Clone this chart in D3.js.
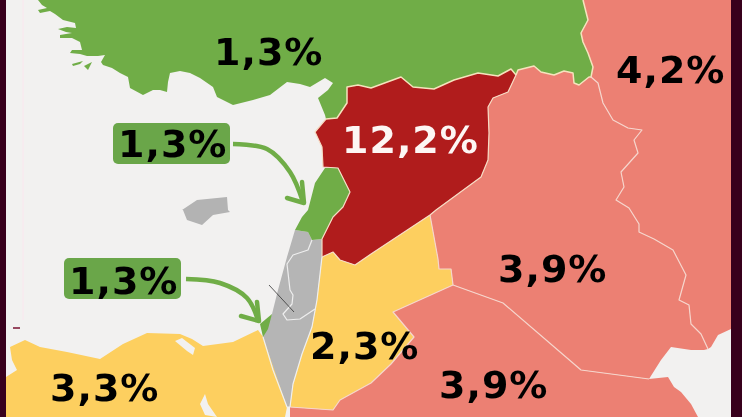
<!DOCTYPE html>
<html><head><meta charset="utf-8">
<script src="https://cdn.jsdelivr.net/npm/d3@7"></script>
<style>html,body{margin:0;padding:0;background:#f2f1f0;overflow:hidden}svg{display:block}</style>
</head><body><svg id="c" width="742" height="417"></svg>
<script>
// Data: share per country
const countries = ["Turkey","Lebanon","Gaza","Syria","Iran","Iraq","Saudi Arabia","Jordan","Egypt"];
const shares    = [1.3,1.3,1.3,12.2,4.2,3.9,3.9,2.3,3.3];
const shareLabels = ["1,3%","1,3%","1,3%","12,2%","4,2%","3,9%","3,9%","2,3%","3,3%"];

// Map geometry (map units)
const turkeyCoast = [[38,0],[42,5],[47,8],[38,10],[40,13],[50,11],[55,14],[63,20],[75,23],[76,28],[67,27],[58,29],[66,32],[72,33],[60,35],[60,38],[72,38],[80,42],[82,50],[72,50],[70,53],[80,54],[87,56],[98,56],[105,55],[101,62],[103,65],[112,68],[120,73],[128,77],[130,88],[143,95],[153,90],[160,90],[167,92],[168,82],[170,73],[180,71],[190,73],[200,78],[213,87],[217,97],[233,105],[253,100],[270,95],[287,82],[300,84],[310,87],[325,78],[333,83],[328,90],[318,98],[325,115],[326,119]];
const syriaNorth = [[326,119],[337,118],[347,103],[347,87],[358,85],[371,88],[401,77],[413,87],[434,89],[454,80],[478,73],[498,76],[511,69],[516,75]];
const turkeyIraq = [[516,75],[518,70],[534,66],[541,72],[554,75],[564,71],[573,73],[574,83],[579,85],[589,77],[591,77]];
const turkeyIran = [[591,77],[593,67],[588,53],[583,42],[581,33],[588,20],[583,0]];
const iranIraq = [[591,77],[598,83],[603,103],[613,120],[628,128],[642,130],[634,140],[638,153],[621,172],[624,187],[616,200],[629,208],[639,224],[639,232],[654,239],[673,250],[686,275],[679,300],[689,305],[691,324],[701,334],[708,349]];
const iranCoast = [[708,349],[711,347],[718,335],[731,329]];
const iraqCoast = [[708,349],[704,350],[691,350],[671,347],[661,360],[649,379]];
const saudiCoast = [[649,379],[668,377],[674,387],[681,392],[691,404],[698,417]];
const saudiIraq = [[453,285],[503,303],[581,370],[649,379]];
const jordanIraq = [[430,215],[438,259],[439,269],[451,269],[453,285]];
const syriaIraq = [[516,75],[508,92],[493,98],[488,107],[489,133],[488,160],[481,177],[436,210],[430,215]];
const jordanSaudi = [[453,285],[393,312],[414,337],[391,364],[371,383],[340,400],[333,410],[290,407]];
const jordanIsrael = [[290,407],[293,384],[302,354],[312,327],[317,300],[322,257]];
const syriaJordan = [[322,257],[333,252],[340,260],[355,265],[371,254],[430,215]];
const syriaWest = [[326,119],[315,132],[322,147],[323,167],[338,168],[350,192],[343,207],[333,217],[322,239],[322,257]];
const lebanonCoast = [[338,168],[325,168],[315,183],[308,210],[302,217],[295,230],[308,232],[312,240],[322,239]];
const israelCoast = [[295,230],[287,257],[278,290],[272,314],[263,337],[273,370],[287,407],[290,407]];
const gazaShape = [[272,314],[268,329],[263,337],[260,324]];
const egyptCoast = [[263,337],[258,330],[233,342],[203,346],[192,339],[180,334],[147,333],[123,344],[100,359],[67,352],[40,347],[25,340],[10,347],[12,360],[17,370],[6,377],[6,417],[285,417],[287,407]];
const cyprusShape = [[182,210],[197,200],[227,197],[228,210],[230,212],[213,215],[202,225],[187,220],[183,210]];
const lagoons = [[[175,341],[182,338],[195,348],[193,355],[187,351]],[[200,404],[205,394],[208,404],[217,417],[205,415]]];
const islets = [[[72,64],[83,61],[80,64],[73,66]],[[84,66],[92,62],[88,70]]];
const westBankBorder = [[312,240],[308,250],[293,255],[287,264],[290,290],[293,295],[292,304],[283,314],[287,320],[300,319],[315,309]];
const strayLine = [[269,285],[294,312]];
const arrowShafts = [[[233,144],[267,149],[290,172],[303,202]],[[186,279],[220,283],[247,298],[258,320]]];
const arrowHeads = [[[302,182],[304,203],[287,198]],[[257,302],[259,321],[241,316]]];
const labelAnchors = [[214,65],[118,157],[69,294],[342,153],[616,83],[498,282],[439,398],[310,359],[50,401]];
const labelBoxes = [null,[[113,123],[230,164]],[[64,258],[181,299]],null,null,null,null,null,null];

const rev = a => a.slice().reverse();
const ring = (...parts) => parts.flat();
const shapes = {
  "Turkey": ring(turkeyCoast, syriaNorth, turkeyIraq, turkeyIran),
  "Lebanon": ring(syriaWest.slice(4,9), rev(lebanonCoast)),
  "Gaza": gazaShape,
  "Syria": ring(syriaNorth, syriaIraq, rev(syriaJordan), rev(syriaWest)),
  "Iran": ring(rev(turkeyIran), iranIraq, iranCoast, [[731,0]]),
  "Iraq": ring(turkeyIraq, iranIraq, iraqCoast, rev(saudiIraq), rev(jordanIraq), rev(syriaIraq)),
  "Saudi Arabia": ring(saudiIraq, saudiCoast, [[290,417]], rev(jordanSaudi)),
  "Jordan": ring(syriaJordan, jordanIraq, jordanSaudi, jordanIsrael),
  "Egypt": egyptCoast
};

const svg = d3.select("#c");
const defs = svg.append("defs");
defs.append("filter").attr("id","soft").append("feGaussianBlur").attr("stdDeviation",0.45);
const g = svg.append("g").attr("filter","url(#soft)");
const path = d3.geoPath(d3.geoIdentity());
const poly = r => ({type:"Polygon",coordinates:[r.concat([r[0]])]});
const line = d3.line();
const color = d3.scaleThreshold().domain([2,3.5,5]).range(["#70ad47","#fdcf5e","#ec8073","#b01a1c"]);

// Land
g.append("rect").attr("width",742).attr("height",417).attr("fill","#f2f1f0");
g.append("path").attr("d",line([[23,0],[23,320]])).attr("stroke","#fbe6ee").attr("fill","none");
g.selectAll(".cyprus").data([cyprusShape]).join("path").attr("d",r=>path(poly(r))).attr("fill","#b3b3b3");
// Israel / West Bank in grey
g.append("path").attr("d",path(poly(ring(israelCoast, jordanIsrael, [[322,239],[312,240],[308,232]])))).attr("fill","#b5b5b5");
g.selectAll(".country").data(countries).join("path")
  .attr("d",d=>path(poly(shapes[d])))
  .attr("fill",(d,i)=>color(shares[i]));
g.selectAll(".islet").data(islets).join("path").attr("d",r=>path(poly(r))).attr("fill",color(shares[0]));
g.selectAll(".lagoon").data(lagoons).join("path").attr("d",r=>path(poly(r))).attr("fill","#f2f1f0");

// Borders
const border = (coords,c,w)=>g.append("path").attr("d",line(coords)).attr("fill","none").attr("stroke",c).attr("stroke-width",w).attr("stroke-linejoin","round");
[syriaNorth,turkeyIraq,turkeyIran].forEach(b=>border(b,"#f5e3bd",1.5));
[syriaWest,syriaJordan,syriaIraq].forEach(b=>border(b,"#f6dcc4",1.2));
[iranIraq,saudiIraq,jordanIraq,jordanSaudi].forEach(b=>border(b,"#f6d5cc",1.2));
[jordanIsrael,westBankBorder,israelCoast.slice(4)].forEach(b=>border(b,"#efefef",1.2));
border(strayLine,"#333",0.8);

// Arrows
const curve = d3.line().curve(d3.curveCatmullRom);
arrowShafts.forEach((s,i)=>{
  g.append("path").attr("d",curve(s)).attr("fill","none").attr("stroke","#70ad47").attr("stroke-width",4.5);
  g.append("path").attr("d",line(arrowHeads[i])).attr("fill","none").attr("stroke","#70ad47").attr("stroke-width",4.5).attr("stroke-linecap","round").attr("stroke-linejoin","round");
});

// Label boxes and labels
labelBoxes.forEach(b=>{ if(b) g.append("rect").attr("x",b[0][0]).attr("y",b[0][1]).attr("width",b[1][0]-b[0][0]).attr("height",b[1][1]-b[0][1]).attr("rx",5).attr("fill","#6aa64a"); });
g.selectAll(".lab").data(shareLabels).join("text")
  .attr("x",(d,i)=>labelAnchors[i][0]).attr("y",(d,i)=>labelAnchors[i][1])
  .attr("font-family","'DejaVu Sans',sans-serif").attr("font-weight","bold").attr("font-size",38)
  .attr("letter-spacing",1)
  .attr("fill",(d,i)=>shares[i]>10?"#fdf6f4":"#050505").text(d=>d);

// Frame
g.append("rect").attr("x",-2).attr("y",-2).attr("width",8).attr("height",421).attr("fill","#37001e");
g.append("rect").attr("x",731).attr("y",-2).attr("width",13).attr("height",421).attr("fill","#37001e");
g.append("path").attr("d",line([[13,328],[20,328]])).attr("stroke","#7a1030").attr("stroke-width",1.5);
</script></body></html>
